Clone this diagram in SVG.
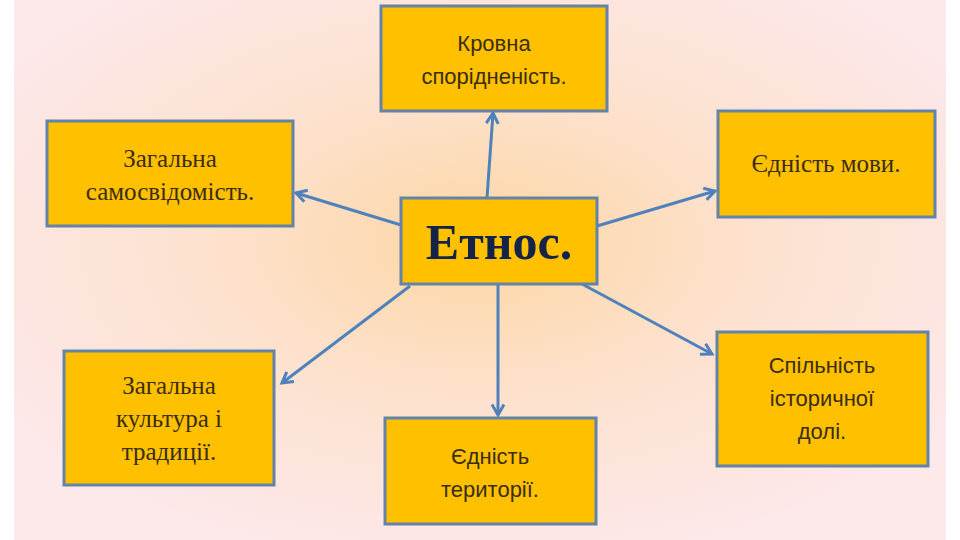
<svg xmlns="http://www.w3.org/2000/svg" width="960" height="540" viewBox="0 0 960 540">
<defs>
<radialGradient id="bg" cx="0.5" cy="0.45" r="0.6">
<stop offset="0" stop-color="#fcd6a4"/>
<stop offset="0.5" stop-color="#fde2cf"/>
<stop offset="1" stop-color="#fde8ea"/>
</radialGradient>
<marker id="ar" viewBox="0 0 10 10" refX="8" refY="5" markerWidth="5" markerHeight="5" orient="auto">
<path d="M1,1 L8,5 L1,9" fill="none" stroke="#4f81bd" stroke-width="2"/>
</marker>
<style>
.b{fill:#ffc000;stroke:#6383a8;stroke-width:3}
.s{font-family:"Liberation Sans",Arial,sans-serif;font-size:22px;fill:#3a2e10;text-anchor:middle}
.r{font-family:"Liberation Serif","Times New Roman",serif;font-size:25px;fill:#3a2e10;text-anchor:middle}
.c line{stroke:#4f81bd;stroke-width:3;marker-end:url(#ar)}
</style>
</defs>
<rect width="960" height="540" fill="#ffffff"/>
<rect x="14" y="0" width="932" height="540" fill="url(#bg)"/>
<g class="c">
<line x1="487" y1="198" x2="493" y2="113"/>
<line x1="401" y1="225" x2="296" y2="193"/>
<line x1="597" y1="226" x2="715" y2="191"/>
<line x1="410" y1="286" x2="282" y2="383"/>
<line x1="498" y1="284" x2="498" y2="415"/>
<line x1="582" y1="284" x2="712" y2="354"/>
</g>
<g id="center"><rect class="b" x="401" y="198" width="196" height="86"/>
<text x="499" y="259" font-family="Liberation Serif,serif" font-weight="bold" font-size="50" fill="#14234a" text-anchor="middle">Етнос.</text></g>
<g id="n1"><rect class="b" x="381" y="6" width="226" height="105"/>
<text class="s" x="494" y="51">Кровна</text><text class="s" x="494" y="84">спорідненість.</text></g>
<g id="n2"><rect class="b" x="47" y="121" width="246" height="105"/>
<text class="r" x="170" y="167">Загальна</text><text class="r" x="170" y="200">самосвідомість.</text></g>
<g id="n3"><rect class="b" x="718" y="111" width="217" height="106"/>
<text class="r" x="826" y="172">Єдність мови.</text></g>
<g id="n4"><rect class="b" x="64" y="351" width="210" height="134"/>
<text class="r" x="169" y="394">Загальна</text><text class="r" x="169" y="427">культура і</text><text class="r" x="169" y="460">традиції.</text></g>
<g id="n5"><rect class="b" x="385" y="418" width="211" height="106"/>
<text class="s" x="490" y="464">Єдність</text><text class="s" x="490" y="497">території.</text></g>
<g id="n6"><rect class="b" x="717" y="332" width="211" height="134"/>
<text class="s" x="822" y="373">Спільність</text><text class="s" x="822" y="406">історичної</text><text class="s" x="822" y="439">долі.</text></g>
</svg>
